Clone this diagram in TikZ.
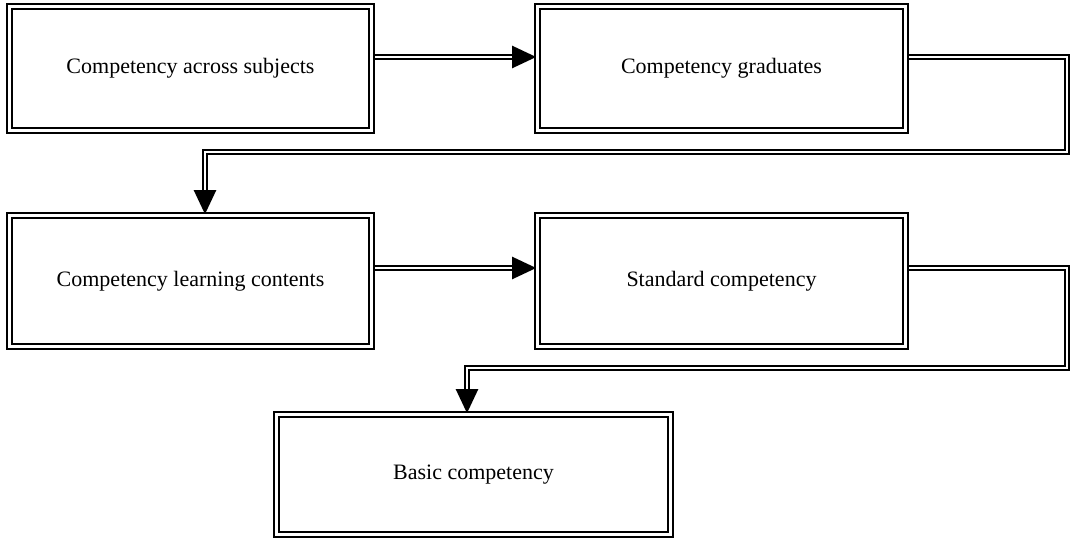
\documentclass[tikz,border=0pt]{standalone}
\usepackage{fontspec}
\setmainfont{Liberation Serif}
\usetikzlibrary{arrows.meta}
\pgfdeclarelayer{edgelayer}
\pgfdeclarelayer{nodelayer}
\pgfsetlayers{edgelayer,nodelayer,main}
\tikzstyle{double_box}=[rectangle,draw=black,fill=white,double,double distance=1.1pt,line width=1.3pt,font=\fontsize{11}{13}\selectfont]
\tikzstyle{double_arrow}=[-{Triangle[width=11pt,length=12pt]},draw=black,double,double distance=1.0pt,line width=1.1pt]

\begin{document}
\begin{tikzpicture}[x=0.5pt,y=-0.5pt]
	\useasboundingbox (0, 0) rectangle (1072, 539);
	\begin{pgfonlayer}{nodelayer}
		\node [style={double_box}, minimum width=181pt, minimum height=62pt] (0) at (190.5, 68.5) {Competency across subjects};
		\node [style={double_box}, minimum width=184pt, minimum height=62pt] (1) at (721.5, 68.5) {Competency graduates};
		\node [style={double_box}, minimum width=181pt, minimum height=65.5pt] (2) at (190.5, 281) {Competency learning contents};
		\node [style={double_box}, minimum width=184pt, minimum height=65.5pt] (3) at (721.5, 281) {Standard competency};
		\node [style={double_box}, minimum width=197pt, minimum height=60pt] (4) at (473.5, 474.5) {Basic competency};
	\end{pgfonlayer}
	\begin{pgfonlayer}{edgelayer}
		\draw [style=double_arrow] (0.east |- 0, 57) to (1.west |- 0, 57);
		\draw [style=double_arrow] (1.east |- 0, 57) -- (1067, 57) -- (1067, 152) -- (205, 152) -- (2.north -| 205, 0);
		\draw [style=double_arrow] (2.east |- 0, 268) to (3.west |- 0, 268);
		\draw [style=double_arrow] (3.east |- 0, 268) -- (1067, 268) -- (1067, 368) -- (467, 368) -- (4.north -| 467, 0);
	\end{pgfonlayer}
\end{tikzpicture}
\end{document}
